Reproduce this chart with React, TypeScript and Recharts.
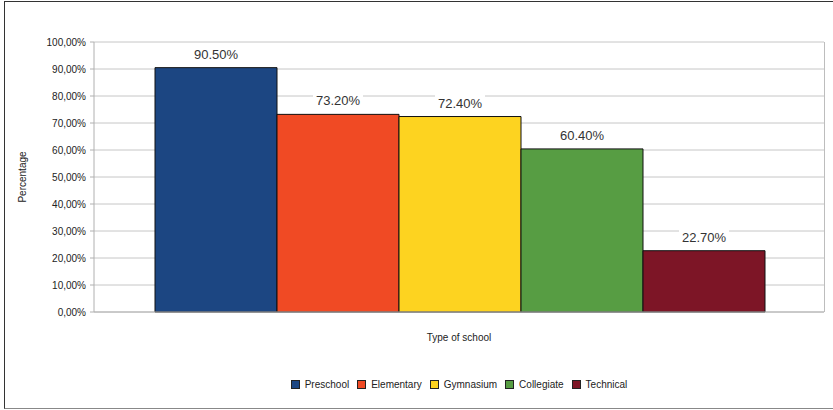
import { BarChart, Bar, XAxis, YAxis, CartesianGrid, Legend, LabelList } from 'recharts';

const schoolTypes = ['Preschool', 'Elementary', 'Gymnasium', 'Collegiate', 'Technical'];
const shares = [0.905, 0.732, 0.724, 0.604, 0.227];
const colors = ['#1c4682', '#f04a24', '#fdd320', '#579d43', '#7d1526'];
const yTicks = [0, 0.1, 0.2, 0.3, 0.4, 0.5, 0.6, 0.7, 0.8, 0.9, 1];

const row: Record<string, number | string> = { name: '' };
schoolTypes.forEach((t, i) => {
  row[t] = shares[i];
});
const data = [row];

const FONT = '"Liberation Sans", Arial, sans-serif';

const fmtTick = (v: number) => (v * 100).toFixed(2).replace('.', ',') + '%';
const fmtLabel = (v: number) => (v * 100).toFixed(2) + '%';

const ValueLabel = (props: any) => {
  const { x, y, width, value } = props;
  const cx = x + width / 2;
  return (
    <g>
      <rect x={cx - 25} y={y - 22} width={50} height={17} fill="#fff" />
      <text x={cx} y={y - 9} textAnchor="middle" fontSize={13} fill="#333" fontFamily={FONT}>
        {fmtLabel(value)}
      </text>
    </g>
  );
};

const LegendBox = () => (
  <div style={{ display: 'flex', justifyContent: 'center', alignItems: 'center', fontFamily: FONT, fontSize: 10, color: '#222' }}>
    {schoolTypes.map((t, i) => (
      <span key={t} style={{ display: 'flex', alignItems: 'center', marginRight: 8 }}>
        <span style={{ width: 9, height: 9, background: colors[i], border: '1px solid #222', marginRight: 5, boxSizing: 'border-box' }} />
        {t}
      </span>
    ))}
  </div>
);

const YTitle = (props: any) => {
  const { viewBox } = props;
  const cy = viewBox.y + viewBox.height / 2;
  return (
    <text x={26} y={cy} transform={`rotate(-90, 26, ${cy})`} textAnchor="middle" fontSize={10} fill="#222" fontFamily={FONT}>
      Percentage
    </text>
  );
};

export default function App() {
  return (
    <div style={{ position: 'absolute', left: 0, top: 0, width: 833, height: 410, background: '#fff' }}>
      <div
        style={{
          position: 'absolute',
          left: 4,
          top: 1,
          width: 829,
          height: 408,
          borderLeft: '1.5px solid #333',
          borderTop: '1px solid #333',
          borderBottom: '1px solid #888',
          boxSizing: 'border-box',
        }}
      />
      <BarChart
        width={833}
        height={410}
        data={data}
        margin={{ top: 42, right: 9, bottom: 58, left: 34 }}
        barCategoryGap={61}
        barGap={0}
        style={{ fontFamily: FONT }}
      >
        <CartesianGrid vertical={false} stroke="#c6c6c6" />
        <CartesianGrid horizontal={false} verticalPoints={[824.5]} stroke="#bdbdbd" />
        <XAxis
          dataKey="name"
          tick={false}
          tickLine={false}
          axisLine={{ stroke: '#b0b0b0' }}
          height={40}
          label={{ value: 'Type of school', position: 'insideBottom', offset: 11, fontSize: 10, fill: '#222' }}
        />
        <YAxis
          width={60}
          domain={[0, 1]}
          ticks={yTicks}
          tickFormatter={fmtTick}
          tick={{ fontSize: 10, fill: '#222' }}
          tickLine={{ stroke: '#b0b0b0' }}
          tickSize={4}
          tickMargin={4}
          axisLine={{ stroke: '#b0b0b0' }}
          interval={0}
          label={<YTitle />}
        />
        <Legend
          verticalAlign="middle"
          align="center"
          content={<LegendBox />}
          wrapperStyle={{ top: 379, left: 98, width: 730 }}
        />
        {schoolTypes.map((t, i) => (
          <Bar key={t} dataKey={t} fill={colors[i]} stroke="#111" strokeWidth={1} isAnimationActive={false}>
            <LabelList dataKey={t} content={<ValueLabel />} />
          </Bar>
        ))}
      </BarChart>
    </div>
  );
}
